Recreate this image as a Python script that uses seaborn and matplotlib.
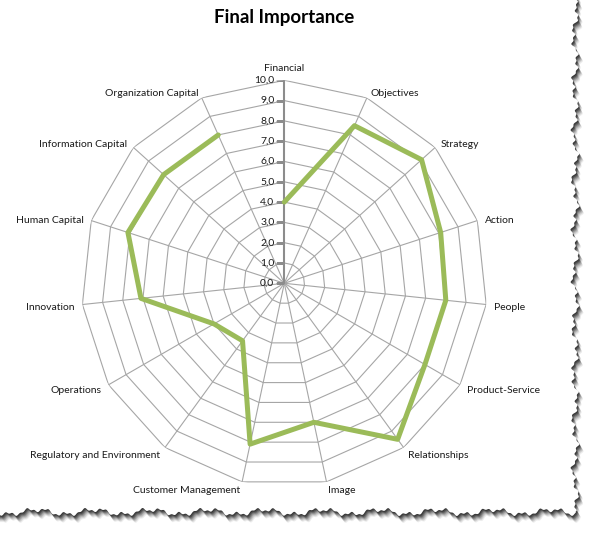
import numpy as np
import pandas as pd
import matplotlib
matplotlib.use("Agg")
import matplotlib.pyplot as plt
from matplotlib.path import Path
import seaborn as sns

categories = ["Financial", "Objectives", "Strategy", "Action", "People",
              "Product-Service", "Relationships", "Image", "Customer Management",
              "Regulatory and Environment", "Operations", "Innovation",
              "Human Capital", "Information Capital", "Organization Capital"]
importance = [4.0, 8.5, 9.1, 8.1, 8.0, 8.0, 9.5, 7.0, 8.1, 3.5, 4.0, 7.1, 8.1, 8.0, 8.0]
r_ticks = list(range(0, 11))
r_tick_labels = [f"{v},0" for v in r_ticks]

sns.set_theme(style="white")
plt.rcParams["font.family"] = ["Lato", "DejaVu Sans"]

fig = plt.figure(figsize=(5.91, 5.34), dpi=100, facecolor="white")

# torn paper edge with shadow (decoration only)
bg = fig.add_axes([0, 0, 1, 1], zorder=-5)
bg.set_xlim(0, 591)
bg.set_ylim(534, 0)
bg.axis("off")
ys = np.linspace(0, 512, 1500)
xs = np.linspace(0, 576, 1500)
right = 575 + 2.2 * np.sin(ys * 0.13) + 1.6 * np.sin(ys * 0.37 + 1) + 0.9 * np.sin(ys * 0.95 + 0.4)
bottom = 512 + 2.4 * np.sin(xs * 0.11 + 0.7) + 1.7 * np.sin(xs * 0.33 + 2) + 0.9 * np.sin(xs * 0.87)
edge_r = np.column_stack([right, ys])
edge_b = np.column_stack([xs[::-1], bottom[::-1]])
pts = np.vstack([[[0, -5]], [[right[0], -5]], edge_r, edge_b, [[-5, bottom[0]]], [[-5, -5]]])
for off, a in [(7, 0.08), (6, 0.12), (5, 0.16), (4, 0.22), (3, 0.3), (2, 0.4), (1, 0.5)]:
    bg.fill(pts[:, 0] + off * 0.6, pts[:, 1] + off, color="#202020", alpha=a, lw=0)
bg.fill(pts[:, 0], pts[:, 1], color="white", lw=0)

# radar axes
cx, cy, rad = 284.3, 283.3, 203.0
W, H = 591.0, 534.0
ax = fig.add_axes([(cx - rad) / W, (H - cy - rad) / H, 2 * rad / W, 2 * rad / H],
                  projection="polar")
ax.set_facecolor("none")
ax.set_theta_zero_location("N")
ax.set_theta_direction(-1)
ax.grid(False)
ax.spines["polar"].set_visible(False)
ax.set_xticks([])
ax.set_yticks([])
ax.set_ylim(0, 10)

n = len(categories)
angles = np.arange(n) * 2 * np.pi / n
closed = np.append(angles, angles[0])

grid_col = "#a6a6a6"
for r in r_ticks[1:]:
    ax.plot(closed, [r] * (n + 1), color=grid_col, lw=0.8, zorder=1)
for a in angles[1:]:
    ax.plot([a, a], [0, 10], color=grid_col, lw=0.8, zorder=1)
ax.plot([0, 0], [0, 10], color="#8c8c8c", lw=1.5, zorder=2)

# value axis tick marks and labels along the Financial spoke
tick_mark = Path([(-1, 0), (0, 0)], [Path.MOVETO, Path.LINETO])
ax.plot([0] * len(r_ticks), r_ticks, ls="none", marker=tick_mark, markersize=11,
        markeredgecolor="#8c8c8c", markerfacecolor="none", markeredgewidth=1.0, zorder=2)
for r, txt in zip(r_ticks, r_tick_labels):
    ax.annotate(txt, (0, r), xytext=(-10, 0), textcoords="offset pixels",
                ha="right", va="center", fontsize=7.5, color="#1a1a1a")

df = pd.DataFrame({"theta": closed, "value": importance + importance[:1]})
sns.lineplot(data=df, x="theta", y="value", sort=False, color="#9bbb59",
             lw=3.6, ax=ax, zorder=3)
ax.set_xlabel("")
ax.set_ylabel("")

for a, name in zip(angles, categories):
    s, c = np.sin(a), np.cos(a)
    if abs(s) < 0.05:
        ax.annotate(name, (a, 10), xytext=(0, 7), textcoords="offset pixels",
                    ha="center", va="bottom", fontsize=7.5, color="#1a1a1a")
        continue
    ha = "left" if s > 0 else "right"
    ax.annotate(name, (a, 10), xytext=(8 * s, 7 * c - 2), textcoords="offset pixels",
                ha=ha, va="center", fontsize=7.5, color="#1a1a1a")

fig.text(284 / W, 1 - 18 / H, "Final Importance", ha="center", va="center",
         fontsize=13.5, fontweight="bold", color="black")

fig.savefig("out.png", dpi=100, facecolor="white")
